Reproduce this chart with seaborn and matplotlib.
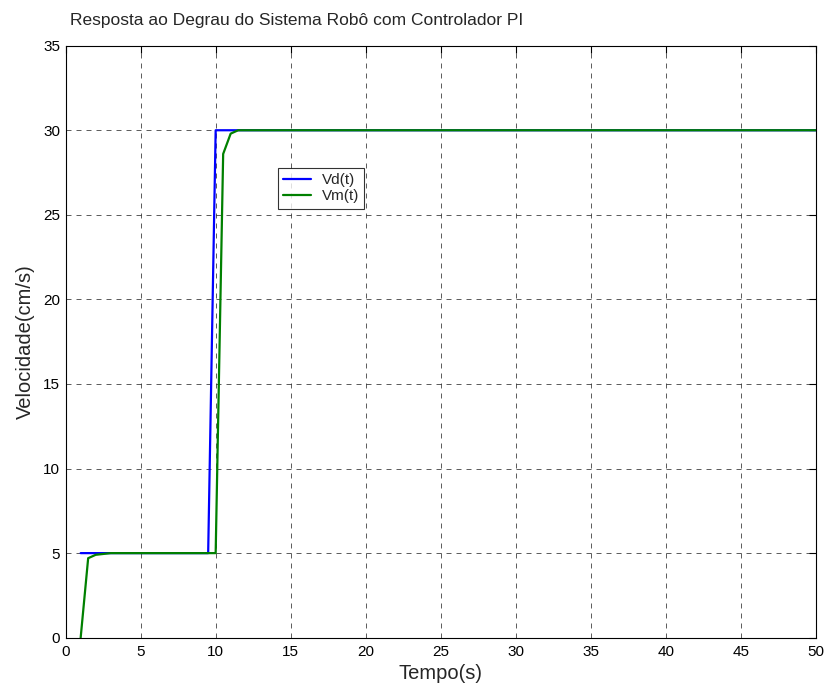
import numpy as np
import pandas as pd
import matplotlib as mpl
mpl.use('Agg')
import matplotlib.pyplot as plt
import seaborn as sns

# step reference Vd(t) and measured response Vm(t)
t_vd = [1, 9.5, 10, 50]
vd = [5, 5, 30, 30]
t_vm = [1, 1.5, 2, 3, 10, 10.5, 11, 11.5, 50]
vm = [0, 4.7, 4.9, 5, 5, 28.6, 29.8, 30, 30]

xticks = list(range(0, 51, 5))
yticks = list(range(0, 36, 5))

df = pd.concat([
    pd.DataFrame({'t': t_vd, 'v': vd, 'serie': 'Vd(t)'}),
    pd.DataFrame({'t': t_vm, 'v': vm, 'serie': 'Vm(t)'}),
], ignore_index=True)

sns.set_style('white')
plt.rcParams['font.family'] = ['Liberation Sans', 'DejaVu Sans']

fig = plt.figure(figsize=(8.27, 6.9), dpi=100)
ax = fig.add_axes([0.0794, 0.0758, 0.9069, 0.858])

sns.lineplot(data=df, x='t', y='v', hue='serie', palette=['#0000ff', '#008000'],
             estimator=None, sort=False, linewidth=1.6, ax=ax)

ax.set_xlim(0, 50)
ax.set_ylim(0, 35)
ax.set_xticks(xticks)
ax.set_yticks(yticks)
ax.tick_params(direction='in', length=5, width=0.8, top=True, right=True,
               labelsize=11, colors='black')
ax.tick_params(axis='x', pad=5)
ax.tick_params(axis='y', pad=4)
ax.grid(True, color='black', linestyle=(0, (6, 6)), linewidth=0.6, alpha=0.75)
for s in ax.spines.values():
    s.set_color('black')
    s.set_linewidth(0.8)

ax.set_xlabel('Tempo(s)', fontsize=14.5, labelpad=4)
ax.set_ylabel('Velocidade(cm/s)', fontsize=14.5, labelpad=6)
fig.text(0.0846, 0.9696, 'Resposta ao Degrau do Sistema Robô com Controlador PI',
         fontsize=12.5, ha='left', va='center')

leg = ax.legend(loc='upper left', bbox_to_anchor=(0.283, 0.794), frameon=True,
                fancybox=False, fontsize=11, handlelength=1.8, borderpad=0.35,
                labelspacing=0.15, handletextpad=0.7, borderaxespad=0)
leg.get_frame().set_edgecolor('black')
leg.get_frame().set_linewidth(0.8)

fig.savefig('out.png', dpi=100)
